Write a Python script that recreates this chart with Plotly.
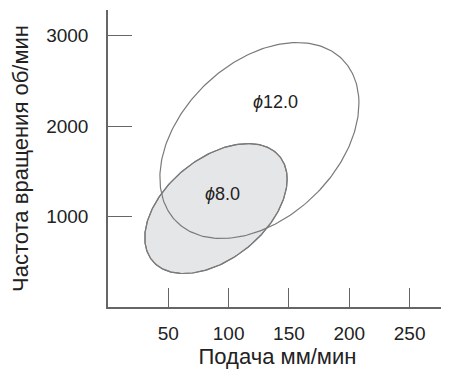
import numpy as np
import plotly.graph_objects as go

# Ellipse regions (feed mm/min vs spindle speed rpm)
labels = ["<i>ϕ</i>8.0", "<i>ϕ</i>12.0"]
centers_x = [89.5, 125.5]      # mm/min
centers_y = [1088, 1840]       # rpm
half_x = [59, 82.5]            # half horizontal extent, mm/min
half_y = [718, 1083]           # half vertical extent, rpm
coupling = [0.45, 0.38]        # cos of phase between x and y (tilt)
fills = ["#e5e6e8", "rgba(0,0,0,0)"]
label_x = [94.6, 139]
label_y = [1254, 2260]

x_ticks = [50, 100, 150, 200, 250]
y_ticks = [1000, 2000, 3000]

t = np.linspace(0, 2 * np.pi, 241)
fig = go.Figure()
for i in range(len(labels)):
    d = np.arccos(coupling[i])
    xs = centers_x[i] + half_x[i] * np.cos(t)
    ys = centers_y[i] + half_y[i] * np.cos(t + d)
    fig.add_trace(go.Scatter(
        x=xs, y=ys, mode="lines",
        fill="toself", fillcolor=fills[i],
        line=dict(color="#7a7a7a", width=1.2),
        hoverinfo="skip", showlegend=False))
# redraw small ellipse outline on top
d = np.arccos(coupling[0])
fig.add_trace(go.Scatter(
    x=centers_x[0] + half_x[0] * np.cos(t),
    y=centers_y[0] + half_y[0] * np.cos(t + d),
    mode="lines", line=dict(color="#7a7a7a", width=1.2),
    hoverinfo="skip", showlegend=False))

for i in range(len(labels)):
    fig.add_annotation(x=label_x[i], y=label_y[i], text=labels[i],
                       showarrow=False,
                       font=dict(size=18, color="#222"))

# page body has an 8px margin, so the figure is sized/offset to compensate
fig.update_layout(
    width=441, height=361,
    margin=dict(l=100, r=2, t=2, b=62, autoexpand=False),
    paper_bgcolor="white", plot_bgcolor="white",
    font=dict(family="Liberation Sans, Arial, sans-serif", color="#222"),
    xaxis=dict(range=[0, 281], tickvals=x_ticks, ticks="inside",
               ticklen=19, tickwidth=1.3, tickcolor="#666",
               showline=True, linecolor="#666", linewidth=1.5,
               showgrid=False, zeroline=False, automargin=False,
               tickfont=dict(size=19), ticklabelstandoff=8,
               title=dict(text="Подача мм/мин", font=dict(size=22),
                          standoff=10)),
    yaxis=dict(range=[0, 3282], tickvals=y_ticks, ticks="inside",
               ticklen=24, tickwidth=1.3, tickcolor="#666",
               showline=True, linecolor="#666", linewidth=1.5,
               showgrid=False, zeroline=False, automargin=False,
               tickfont=dict(size=19), ticklabelstandoff=14,
               title=dict(text="Частота вращения об/мин",
                          font=dict(size=22), standoff=12)),
)
fig.write_html("out.html")
